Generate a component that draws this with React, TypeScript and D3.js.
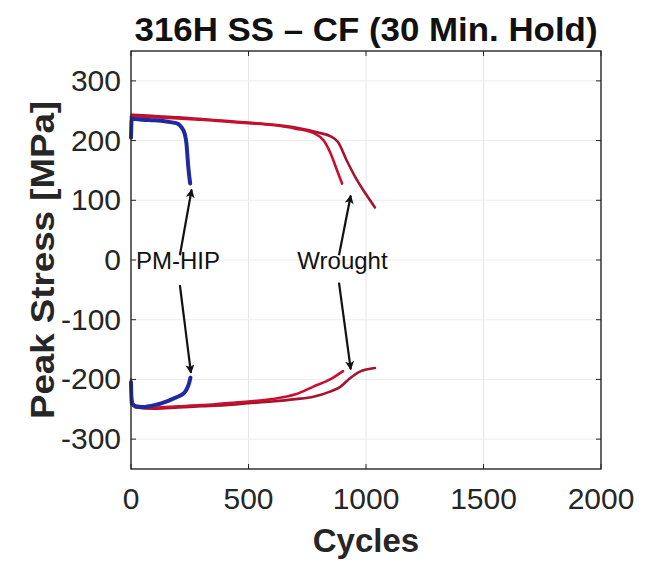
import React from 'react';
import * as d3 from 'd3';

// cycle-by-cycle peak stress
type Pt = [number, number];

const wroughtA_tension: Pt[] = [[0, 238], [3, 241], [100, 239], [200, 237], [300, 235], [400, 232], [500, 229], [600, 226], [700, 220], [780, 212], [820, 200], [850, 178], [875, 152], [898, 128]];
const wroughtB_tension: Pt[] = [[0, 240], [3, 243], [100, 241], [200, 239], [300, 236], [400, 233], [500, 230], [600, 227], [700, 222], [800, 213], [850, 207], [880, 198], [920, 165], [960, 135], [1000, 110], [1038, 88]];
const wroughtA_comp: Pt[] = [[0, -200], [5, -235], [20, -245], [100, -247], [200, -245], [300, -243], [400, -240], [500, -237], [600, -233], [700, -225], [776, -212], [847, -200], [902, -186]];
const wroughtB_comp: Pt[] = [[0, -205], [5, -238], [20, -247], [100, -249], [200, -247], [300, -245], [400, -243], [500, -240], [600, -237], [700, -233], [776, -229], [850, -220], [889, -213], [932, -198], [974, -187], [1038, -181]];
const pmhip_tension: Pt[] = [[0, 205], [3, 236], [20, 236], [50, 235], [100, 234], [150, 232], [180, 230], [200, 228], [215, 222], [228, 212], [236, 195], [240, 175], [244, 155], [248, 140], [252, 128]];
const pmhip_comp: Pt[] = [[0, -205], [3, -240], [20, -245], [50, -246], [100, -243], [150, -237], [180, -232], [210, -227], [230, -221], [240, -214], [248, -205], [253, -197]];

const xTicks = [0, 500, 1000, 1500, 2000];
const yTicks = [-300, -200, -100, 0, 100, 200, 300];

const series = [
  { data: wroughtB_tension, color: '#a2142f', width: 2.6 },
  { data: wroughtB_comp, color: '#a2142f', width: 2.6 },
  { data: wroughtA_tension, color: '#c8102e', width: 2.6 },
  { data: wroughtA_comp, color: '#c8102e', width: 2.6 },
  { data: pmhip_tension, color: '#1f2a9e', width: 4 },
  { data: pmhip_comp, color: '#1f2a9e', width: 4 },
];

// arrows: [label anchor cycles, label stress], tail -> head in data units
const annotations = [
  { label: 'PM-HIP', at: [200, -15] as Pt, arrows: [[[208, 8], [258, 118]], [[208, -42], [255, -189]]] as Pt[][] },
  { label: 'Wrought', at: [900, -15] as Pt, arrows: [[[885, 8], [935, 108]], [[885, -38], [935, -183]]] as Pt[][] },
];

const W = 648, H = 561;
const m = { left: 131, right: 601, top: 51, bottom: 469 };
const font = '"Liberation Sans", Arial, Helvetica, sans-serif';

export default function App() {
  const x = d3.scaleLinear().domain([0, 2000]).range([m.left, m.right]);
  const y = d3.scaleLinear().domain([-350, 350]).range([m.bottom, m.top]);
  const line = d3.line<Pt>().x(d => x(d[0])).y(d => y(d[1])).curve(d3.curveMonotoneX);

  return (
    <svg width={W} height={H} style={{ position: 'absolute', left: 0, top: 0, background: '#fff' }} fontFamily={font}>
      <defs>
        <marker id="ah" viewBox="0 0 10 10" refX="9" refY="5" markerWidth="9" markerHeight="9" orient="auto-start-reverse" markerUnits="userSpaceOnUse">
          <path d="M0,0 L10,5 L0,10 L2.5,5 z" fill="#111" />
        </marker>
      </defs>
      {/* grid */}
      {xTicks.slice(1, -1).map(t => (
        <line key={'gx' + t} x1={x(t)} x2={x(t)} y1={m.top} y2={m.bottom} stroke="#e6e6e6" strokeWidth={1} />
      ))}
      {yTicks.map(t => (
        <line key={'gy' + t} x1={m.left} x2={m.right} y1={y(t)} y2={y(t)} stroke="#ececec" strokeWidth={1} />
      ))}
      {/* data */}
      {series.map((s, i) => (
        <path key={i} d={line(s.data) || ''} fill="none" stroke={s.color} strokeWidth={s.width} strokeLinejoin="round" strokeLinecap="round" />
      ))}
      {/* box and ticks */}
      <rect x={m.left} y={m.top} width={m.right - m.left} height={m.bottom - m.top} fill="none" stroke="#262626" strokeWidth={1.4} />
      {xTicks.map(t => (
        <g key={'tx' + t}>
          <line x1={x(t)} x2={x(t)} y1={m.bottom} y2={m.bottom - 5} stroke="#262626" />
          <line x1={x(t)} x2={x(t)} y1={m.top} y2={m.top + 5} stroke="#262626" />
          <text x={x(t)} y={m.bottom + 40} textAnchor="middle" fontSize={30} fill="#262626">{t}</text>
        </g>
      ))}
      {yTicks.map(t => (
        <g key={'ty' + t}>
          <line x1={m.left} x2={m.left + 5} y1={y(t)} y2={y(t)} stroke="#262626" />
          <line x1={m.right} x2={m.right - 5} y1={y(t)} y2={y(t)} stroke="#262626" />
          <text x={m.left - 10} y={y(t) + 10} textAnchor="end" fontSize={30} fill="#262626">{t}</text>
        </g>
      ))}
      {/* annotations */}
      {annotations.map(a => (
        <g key={a.label}>
          <text x={x(a.at[0])} y={y(a.at[1])} textAnchor="middle" fontSize={24} fill="#111">{a.label}</text>
          {a.arrows.map((ar, j) => (
            <line key={j} x1={x(ar[0][0])} y1={y(ar[0][1])} x2={x(ar[1][0])} y2={y(ar[1][1])} stroke="#111" strokeWidth={2.2} markerEnd="url(#ah)" />
          ))}
        </g>
      ))}
      {/* titles */}
      <text x={(m.left + m.right) / 2} y={41} textAnchor="middle" fontSize={33} fontWeight="bold" fill="#111" textLength={463} lengthAdjust="spacingAndGlyphs">316H SS – CF (30 Min. Hold)</text>
      <text x={(m.left + m.right) / 2} y={552} textAnchor="middle" fontSize={33} fontWeight="bold" fill="#262626">Cycles</text>
      <text transform={`translate(54,${(m.top + m.bottom) / 2}) rotate(-90)`} textAnchor="middle" fontSize={33} fontWeight="bold" fill="#262626" textLength={318} lengthAdjust="spacingAndGlyphs">Peak Stress [MPa]</text>
    </svg>
  );
}
